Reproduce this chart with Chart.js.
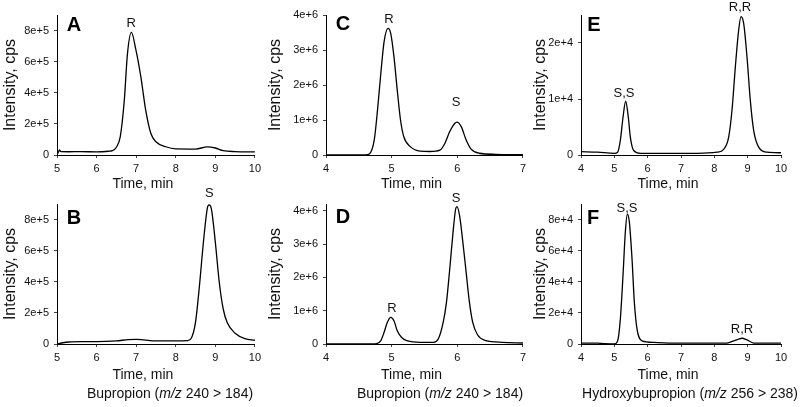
<!DOCTYPE html>
<html>
<head>
<meta charset="utf-8">
<script src="https://cdn.jsdelivr.net/npm/chart.js@4/dist/chart.umd.min.js"></script>
<style>
  body { margin: 0; background: #fff; width: 800px; height: 407px; position: relative; overflow: hidden; font-family: "Liberation Sans", Arial, sans-serif; }
  canvas { position: absolute; }
  .cap { position: absolute; top: 385px; font-size: 14px; line-height: 16px; color: #111; white-space: nowrap; transform: translateX(-50%); }
</style>
</head>
<body>
<canvas id="pA" width="265" height="196" style="left:0;top:0"></canvas>
<canvas id="pB" width="265" height="207" style="left:0;top:180px"></canvas>
<canvas id="pC" width="265" height="196" style="left:265px;top:0"></canvas>
<canvas id="pD" width="265" height="207" style="left:265px;top:180px"></canvas>
<canvas id="pE" width="270" height="196" style="left:530px;top:0"></canvas>
<canvas id="pF" width="270" height="207" style="left:530px;top:180px"></canvas>
<div class="cap" style="left:170px">Bupropion (<i>m/z</i> 240 &gt; 184)</div>
<div class="cap" style="left:440px">Bupropion (<i>m/z</i> 240 &gt; 184)</div>
<div class="cap" style="left:690px">Hydroxybupropion (<i>m/z</i> 256 &gt; 238)</div>
<script>
// --- data ---
const timeA = [5.0, 5.03, 5.06, 5.1, 5.3, 5.6, 6.0, 6.3, 6.4, 6.5, 6.6, 6.7, 6.78, 6.88, 6.99, 7.12, 7.24, 7.37, 7.5, 7.75, 8.0, 8.5, 8.8, 9.0, 9.2, 9.5, 10.0];
const intA = [10000, 15000, 32000, 22000, 21000, 22000, 20000, 24000, 28000, 50000, 120000, 350000, 650000, 788000, 680000, 500000, 290000, 140000, 85000, 53000, 39000, 38000, 52000, 45000, 28000, 22000, 20000];

const timeB = [5.0, 5.15, 5.3, 5.6, 6.0, 6.5, 6.8, 7.0, 7.2, 7.5, 8.0, 8.3, 8.4, 8.5, 8.6, 8.7, 8.8, 8.84, 8.9, 9.0, 9.1, 9.2, 9.3, 9.5, 9.75, 10.0];
const intB = [0, 8000, 13000, 15000, 15000, 20000, 28000, 30000, 26000, 20000, 20000, 22000, 40000, 140000, 376000, 656000, 875000, 895000, 870000, 656000, 397000, 225000, 138000, 69000, 34000, 24000];

const timeC = [4.0, 4.5, 4.6, 4.66, 4.735, 4.785, 4.835, 4.885, 4.945, 4.985, 5.035, 5.085, 5.135, 5.185, 5.285, 5.435, 5.585, 5.735, 5.81, 5.885, 5.96, 5.995, 6.06, 6.135, 6.21, 6.335, 6.585, 7.0];
const intC = [0, 0, 5000, 30000, 430000, 1290000, 2330000, 3240000, 3620000, 3480000, 2810000, 1860000, 1000000, 520000, 240000, 110000, 100000, 140000, 330000, 670000, 900000, 940000, 810000, 430000, 170000, 50000, 20000, 10000];

const timeD = [4.0, 4.7, 4.785, 4.835, 4.885, 4.935, 4.985, 5.035, 5.085, 5.16, 5.235, 5.435, 5.635, 5.71, 5.785, 5.835, 5.885, 5.935, 5.975, 5.995, 6.035, 6.085, 6.135, 6.185, 6.235, 6.31, 6.435, 6.685, 7.0];
const intD = [0, 0, 20000, 100000, 350000, 650000, 800000, 700000, 400000, 180000, 100000, 50000, 50000, 150000, 650000, 1250000, 2250000, 3350000, 4050000, 4120000, 3850000, 3050000, 2150000, 1250000, 650000, 270000, 100000, 50000, 30000];

const timeE = [4.0, 4.5, 5.0, 5.1, 5.18, 5.26, 5.34, 5.42, 5.48, 5.58, 5.78, 6.5, 7.5, 8.08, 8.28, 8.43, 8.53, 8.63, 8.73, 8.8, 8.88, 8.98, 9.08, 9.18, 9.33, 9.58, 10.0];
const intE = [600, 500, 300, 500, 2600, 6700, 9600, 6700, 3200, 800, 300, 300, 300, 500, 1000, 3200, 8000, 15700, 22300, 24700, 23500, 17500, 9700, 4400, 1400, 500, 400];

const timeF = [4.0, 4.5, 5.0, 5.1, 5.18, 5.26, 5.33, 5.39, 5.45, 5.53, 5.6, 5.68, 5.83, 6.18, 7.0, 8.0, 8.38, 8.58, 8.73, 8.83, 8.98, 9.18, 10.0];
const intF = [600, 500, 0, 2000, 16000, 44000, 72000, 83400, 78500, 55000, 27000, 9700, 2000, 1000, 500, 500, 600, 2000, 3200, 3700, 2600, 600, 500];

// axis ticks
const xTicksBup = [5, 6, 7, 8, 9, 10];
const xTicksBupC = [4, 5, 6, 7];
const xTicksOH = [4, 5, 6, 7, 8, 9, 10];
const yTicksA = [0, 2e5, 4e5, 6e5, 8e5];
const yTicksC = [0, 1e6, 2e6, 3e6, 4e6];
const yTicksE = [0, 1e4, 2e4];
const yTicksF = [0, 2e4, 4e4, 6e4, 8e4];

// peak labels: [text, time, intensity]
const peaksA = [["R", 6.875, 849000]];
const peaksB = [["S", 8.85, 970000]];
const peaksC = [["R", 4.96, 3860000], ["S", 5.98, 1490000]];
const peaksD = [["S", 5.98, 4380000], ["R", 5.005, 1060000]];
const peaksE = [["R,R", 8.77, 26400], ["S,S", 5.29, 11000]];
const peaksF = [["S,S", 5.38, 87400], ["R,R", 8.83, 9100]];

const FONT = "'Liberation Sans', Arial, sans-serif";

const labelPlugin = {
    id: "peakLabels",
    afterDatasetsDraw(chart, args, opts) {
        const ctx = chart.ctx;
        const xs = chart.scales.x, ys = chart.scales.y;
        const area = chart.chartArea;
        ctx.save();
        ctx.fillStyle = "#111";
        ctx.textAlign = "center";
        ctx.textBaseline = "middle";
        ctx.font = "13px " + FONT;
        opts.peaks.forEach(([txt, t, v]) => {
            ctx.fillText(txt, xs.getPixelForValue(t), ys.getPixelForValue(v));
        });
        // x axis title, sits a little left of the plot centre
        ctx.font = "14px " + FONT;
        ctx.fillText("Time, min", (area.left + area.right) / 2 - 13, area.bottom + opts.ty);
        // panel letter
        ctx.font = "bold 20px " + FONT;
        ctx.fillStyle = "#000";
        ctx.fillText(opts.letter, area.left + opts.lx, area.top + opts.ly);
        ctx.restore();
    },
};

function panel(id, times, ints, xTicks, yMax, yTicks, box, peaks, letter) {
    const pts = times.map((t, i) => ({ x: t, y: ints[i] }));
    new Chart(document.getElementById(id), {
        type: "line",
        data: {
            datasets: [{
                data: pts,
                borderColor: "#000",
                borderWidth: 1.3,
                pointRadius: 0,
                cubicInterpolationMode: "monotone",
                fill: false,
            }],
        },
        options: {
            responsive: false,
            animation: false,
            devicePixelRatio: 1,
            layout: { padding: { left: 0, top: box.top, right: box.right, bottom: 0 } },
            plugins: {
                legend: { display: false },
                tooltip: { enabled: false },
                peakLabels: { peaks: peaks, letter: letter, lx: box.lx, ly: box.ly, ty: box.ty },
            },
            scales: {
                x: {
                    type: "linear",
                    min: xTicks[0],
                    max: xTicks[xTicks.length - 1],
                    afterBuildTicks: (s) => { s.ticks = xTicks.map((v) => ({ value: v })); },
                    afterFit: (s) => { s.height = box.xh; },
                    border: { color: "#000", width: 1 },
                    grid: { drawOnChartArea: false, color: "#444", tickLength: 3 },
                    ticks: { autoSkip: false, maxRotation: 0, padding: 4, color: "#111", font: { family: FONT, size: 11 } },
                    title: { display: false },
                },
                y: {
                    min: 0,
                    max: yMax,
                    afterBuildTicks: (s) => { s.ticks = yTicks.map((v) => ({ value: v })); },
                    afterFit: (s) => { s.width = box.yw; },
                    border: { color: "#000", width: 1 },
                    grid: { drawOnChartArea: false, color: "#444", tickLength: 3 },
                    ticks: {
                        color: "#111",
                        padding: 5,
                        font: { family: FONT, size: 11 },
                        callback: (v) => (v === 0 ? "0" : Number(v).toExponential()),
                    },
                    title: { display: true, text: "Intensity, cps", color: "#111", font: { family: FONT, size: 16 }, padding: { top: 1, bottom: 0 } },
                },
            },
        },
        plugins: [labelPlugin],
    });
}

panel("pA", timeA, intA, xTicksBup, 9e5, yTicksA, { top: 15, right: 8, yw: 57, xh: 41, lx: 17, ly: 10, ty: 29 }, peaksA, "A");
panel("pB", timeB, intB, xTicksBup, 9e5, yTicksA, { top: 24, right: 8, yw: 57, xh: 43, lx: 17, ly: 14, ty: 31 }, peaksB, "B");
panel("pC", timeC, intC, xTicksBupC, 4e6, yTicksC, { top: 15, right: 4, yw: 61, xh: 41, lx: 17, ly: 9, ty: 29 }, peaksC, "C");
panel("pD", timeD, intD, xTicksBupC, 4.2e6, yTicksC, { top: 24, right: 4, yw: 61, xh: 43, lx: 17, ly: 13, ty: 31 }, peaksD, "D");
panel("pE", timeE, intE, xTicksOH, 2.5e4, yTicksE, { top: 15, right: 19, yw: 51, xh: 41, lx: 13, ly: 10, ty: 29 }, peaksE, "E");
panel("pF", timeF, intF, xTicksOH, 9e4, yTicksF, { top: 24, right: 19, yw: 51, xh: 43, lx: 12, ly: 14, ty: 31 }, peaksF, "F");
</script>
</body>
</html>
